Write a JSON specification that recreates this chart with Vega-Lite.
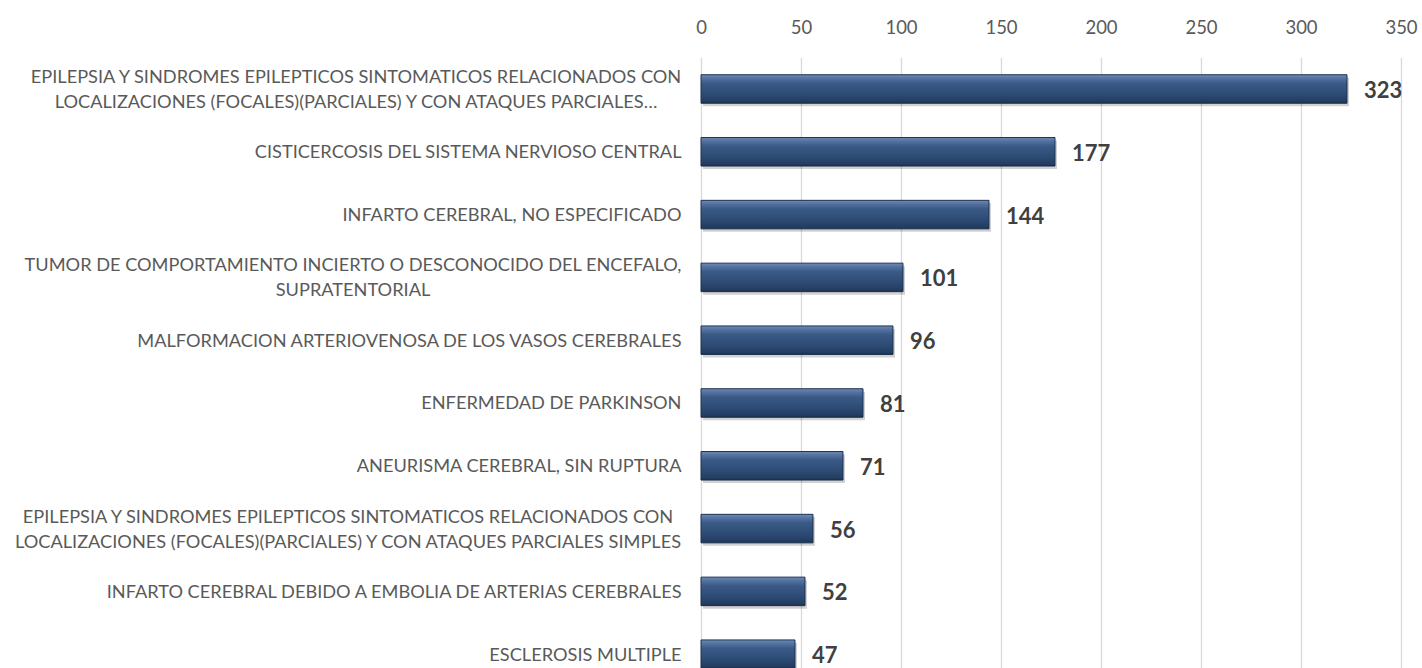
{
  "$schema": "https://vega.github.io/schema/vega-lite/v6.json",
  "autosize": {"type": "none"},
  "width": 700,
  "height": 628,
  "padding": {"left": 701, "top": 57.6, "right": 21, "bottom": 0},
  "background": "white",
  "config": {"view": {"stroke": null}, "font": "Lato"},
  "data": {
    "values": [
      {"cat": "EPILEPSIA Y SINDROMES EPILEPTICOS SINTOMATICOS RELACIONADOS CON|LOCALIZACIONES (FOCALES)(PARCIALES) Y CON ATAQUES PARCIALES…", "value": 323},
      {"cat": "CISTICERCOSIS DEL SISTEMA NERVIOSO CENTRAL", "value": 177},
      {"cat": "INFARTO CEREBRAL, NO ESPECIFICADO", "value": 144},
      {"cat": "TUMOR DE COMPORTAMIENTO INCIERTO O DESCONOCIDO DEL ENCEFALO,|SUPRATENTORIAL", "value": 101},
      {"cat": "MALFORMACION ARTERIOVENOSA DE LOS VASOS CEREBRALES", "value": 96},
      {"cat": "ENFERMEDAD DE PARKINSON", "value": 81},
      {"cat": "ANEURISMA CEREBRAL, SIN RUPTURA", "value": 71},
      {"cat": "EPILEPSIA Y SINDROMES EPILEPTICOS SINTOMATICOS RELACIONADOS CON|LOCALIZACIONES (FOCALES)(PARCIALES) Y CON ATAQUES PARCIALES SIMPLES", "value": 56},
      {"cat": "INFARTO CEREBRAL DEBIDO A EMBOLIA DE ARTERIAS CEREBRALES", "value": 52},
      {"cat": "ESCLEROSIS MULTIPLE", "value": 47}
    ]
  },
  "encoding": {
    "y": {
      "field": "cat",
      "type": "nominal",
      "sort": null,
      "scale": {"paddingInner": 0.546, "paddingOuter": 0.273},
      "axis": {
        "title": null,
        "domain": false,
        "ticks": false,
        "labelExpr": "split(datum.label, '|')",
        "labelLimit": 700,
        "labelAlign": {"condition": {"test": "indexof(datum.value, '|') >= 0", "value": "center"}, "value": "right"},
        "labelPadding": {"condition": [
          {"test": "indexof(datum.value, 'ENCEFALO') >= 0", "value": 348.5},
          {"test": "indexof(datum.value, 'SIMPLES') >= 0", "value": 353.5},
          {"test": "indexof(datum.value, '|') >= 0", "value": 345.5}
        ], "value": 20},
        "labelOffset": {"condition": {"test": "indexof(datum.value, '|') >= 0", "value": -11}, "value": 1.5},
        "labelFontSize": 18.2,
        "labelColor": "#595959",
        "labelFont": "Lato",
        "labelLineHeight": 25
      }
    },
    "x": {
      "field": "value",
      "type": "quantitative",
      "scale": {"domain": [0, 350], "nice": false},
      "axis": {
        "orient": "top",
        "title": null,
        "values": [0, 50, 100, 150, 200, 250, 300, 350],
        "domain": false,
        "ticks": false,
        "grid": true,
        "gridColor": "#d9d9d9",
        "gridWidth": 1.3,
        "labelPadding": 20,
        "labelFontSize": 18.5,
        "labelColor": "#595959",
        "labelFont": "Lato",
        "labelFlush": false
      }
    }
  },
  "layer": [
    {
      "mark": {
        "type": "bar",
        "color": "#000000",
        "opacity": 0.18,
        "yOffset": 3,
        "xOffset": 2
      }
    },
    {
      "mark": {
        "type": "bar",
        "stroke": "#1c3050",
        "strokeWidth": 1,
        "color": {
          "gradient": "linear",
          "x1": 0, "y1": 0, "x2": 0, "y2": 1,
          "stops": [
            {"offset": 0, "color": "#6f8db5"},
            {"offset": 0.12, "color": "#5573a0"},
            {"offset": 0.3, "color": "#3a5a86"},
            {"offset": 0.7, "color": "#2c4a73"},
            {"offset": 0.92, "color": "#243e62"},
            {"offset": 1, "color": "#1b2f4c"}
          ]
        }
      }
    },
    {
      "mark": {
        "type": "text",
        "align": "left",
        "baseline": "middle",
        "dx": 17,
        "dy": 2,
        "fontSize": 22,
        "fontWeight": "bold",
        "color": "#404040",
        "font": "Lato"
      },
      "encoding": {"text": {"field": "value", "type": "quantitative"}}
    }
  ]
}
